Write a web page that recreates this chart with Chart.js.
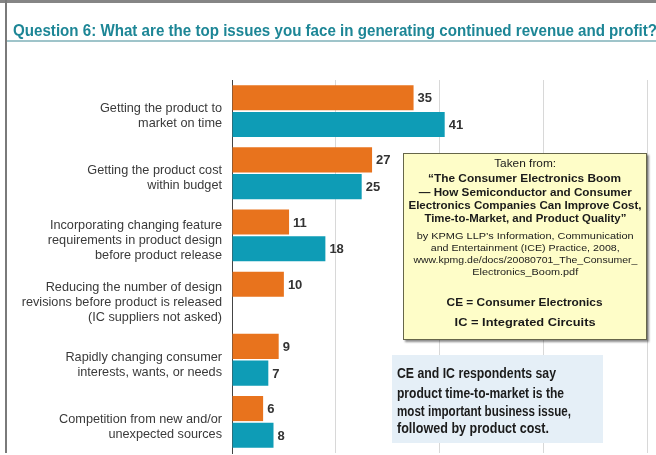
<!DOCTYPE html>
<html>
<head>
<meta charset="utf-8">
<script src="https://cdn.jsdelivr.net/npm/chart.js@4.4.1/dist/chart.umd.min.js"></script>
<style>
  html, body { margin: 0; padding: 0; background: #fff; }
  #wrap { position: relative; width: 656px; height: 455px; overflow: hidden; background: #fff; }
  #myChart { position: absolute; left: 0; top: 0; }
  .frameTop { position: absolute; left: 0; top: 0; width: 656px; height: 3px; background: #858585; }
  .frameLeft { position: absolute; left: 5px; top: 0; width: 2px; height: 453px; background: #7a7a7a; }
  .title { position: absolute; left: 13px; top: 21px; white-space: nowrap; line-height: 17px;
    font: bold 17px "Liberation Sans Narrow", "Liberation Sans", Arial, sans-serif; color: #1d8696; }
  .rule { position: absolute; left: 7px; top: 40px; width: 649px; height: 2px; background: #9fc4ca; }
  .fit { display: inline-block; white-space: nowrap; }
  .note { position: absolute; left: 403px; top: 153px; width: 242px; height: 185px;
    background: #fefdc8; border: 1px solid #66664a; box-shadow: 2px 2px 2px rgba(0,0,0,0.45);
    font-family: "Liberation Sans", Arial, sans-serif; color: #1a1a1a; }
  .note div { position: absolute; left: 0; right: 0; text-align: center; line-height: 12px; }
  .note .b { font-weight: bold; font-size: 11px; }
  .note .r { font-size: 9.5px; }
  .note .fit { transform-origin: center center; }
  .callout { position: absolute; left: 392px; top: 355px; width: 211px; height: 88px; background: #e5eff7;
    font: bold 14px "Liberation Sans Narrow", "Liberation Sans", Arial, sans-serif; color: #1b1b1b; }
  .callout div { position: absolute; left: 5px; line-height: 14px; }
  .fit.l { transform-origin: left center; }
</style>
</head>
<body>
<div id="wrap">
  <canvas id="myChart" width="656" height="455"></canvas>
  <div class="frameTop"></div>
  <div class="frameLeft"></div>
  <div class="title"><span class="fit l" data-w="644">Question 6: What are the top issues you face in generating continued revenue and profit?</span></div>
  <div class="rule"></div>

  <div class="note">
    <div class="r" style="top:4px;font-size:10px"><span class="fit" data-w="62">Taken from:</span></div>
    <div class="b" style="top:18px"><span class="fit" data-w="193">“The Consumer Electronics Boom</span></div>
    <div class="b" style="top:32px"><span class="fit" data-w="213">— How Semiconductor and Consumer</span></div>
    <div class="b" style="top:45px"><span class="fit" data-w="233">Electronics Companies Can Improve Cost,</span></div>
    <div class="b" style="top:58px"><span class="fit" data-w="202">Time-to-Market, and Product Quality”</span></div>
    <div class="r" style="top:76px"><span class="fit" data-w="217">by KPMG LLP’s Information, Communication</span></div>
    <div class="r" style="top:88px"><span class="fit" data-w="189">and Entertainment (ICE) Practice, 2008,</span></div>
    <div class="r" style="top:100px"><span class="fit" data-w="224">www.kpmg.de/docs/20080701_The_Consumer_</span></div>
    <div class="r" style="top:112px"><span class="fit" data-w="106">Electronics_Boom.pdf</span></div>
    <div class="b" style="top:142px;font-size:11.5px"><span class="fit" data-w="156">CE = Consumer Electronics</span></div>
    <div class="b" style="top:162px;font-size:11.5px"><span class="fit" data-w="141">IC = Integrated Circuits</span></div>
  </div>

  <div class="callout">
    <div style="top:11px"><span class="fit l" data-w="159">CE and IC respondents say</span></div>
    <div style="top:31px"><span class="fit l" data-w="167">product time-to-market is the</span></div>
    <div style="top:49px"><span class="fit l" data-w="174">most important business issue,</span></div>
    <div style="top:66px"><span class="fit l" data-w="152">followed by product cost.</span></div>
  </div>
</div>

<script>
const issues = [
  ['Getting the product to', 'market on time'],
  ['Getting the product cost', 'within budget'],
  ['Incorporating changing feature', 'requirements in product design', 'before product release'],
  ['Reducing the number of design', 'revisions before product is released', '(IC suppliers not asked)'],
  ['Rapidly changing consumer', 'interests, wants, or needs'],
  ['Competition from new and/or', 'unexpected sources']
];
const ceValues = [35, 27, 11, 10, 9, 6];
const icValues = [41, 25, 18, null, 7, 8];
const xTicks = [0, 20, 40, 60, 80];

// squeeze text to the width measured on the original (condensed typeface look)
document.querySelectorAll('.fit').forEach(el => {
  const w = +el.dataset.w;
  const k = w / el.getBoundingClientRect().width;
  el.style.transform = 'scaleX(' + k + ')';
});

const valueLabels = {
  id: 'valueLabels',
  afterDatasetsDraw(chart) {
    const c = chart.ctx;
    c.save();
    c.font = 'bold 13px "Liberation Sans", Arial, sans-serif';
    c.fillStyle = '#333333';
    c.textBaseline = 'middle';
    c.textAlign = 'left';
    chart.data.datasets.forEach((ds, i) => {
      chart.getDatasetMeta(i).data.forEach((bar, j) => {
        if (ds.data[j] == null) return;
        c.fillText(ds.data[j], bar.x + 4, bar.y + 1);
      });
    });
    c.restore();
  }
};

const ctx = document.getElementById('myChart').getContext('2d');
const myChart = new Chart(ctx, {
  type: 'bar',
  data: {
    labels: issues,
    datasets: [{
      label: 'CE',
      data: ceValues,
      backgroundColor: '#e8731d',
      barPercentage: .94,
      categoryPercentage: .86
    }, {
      label: 'IC',
      data: icValues,
      backgroundColor: '#0e9cb6',
      barPercentage: .94,
      categoryPercentage: .86
    }]
  },
  options: {
    responsive: false,
    devicePixelRatio: 1,
    animation: false,
    indexAxis: 'y',
    layout: { padding: { top: 80, right: 9, bottom: 2, left: 0 } },
    scales: {
      x: {
        min: 0,
        max: 80,
        afterBuildTicks: s => { s.ticks = xTicks.map(v => ({ value: v })); },
        afterFit: s => { s.height = 0; s.paddingLeft = 0; s.paddingRight = 0; },
        ticks: { display: false },
        grid: {
          drawTicks: false,
          color: c => c.tick && c.tick.value === 0 ? 'rgba(0,0,0,0)' : '#d8d8d8'
        },
        border: { display: false }
      },
      y: {
        afterFit: s => { s.width = 232; s.paddingTop = 0; s.paddingBottom = 0; },
        grid: { display: false, drawTicks: false },
        border: { color: '#444444', width: 1 },
        ticks: {
          padding: 10,
          labelOffset: 5,
          color: '#3a3a3a',
          font: { family: '"Liberation Sans", Arial, sans-serif', size: 12.7, lineHeight: 1.18 }
        }
      }
    },
    plugins: {
      legend: { display: false },
      tooltip: { enabled: false }
    }
  },
  plugins: [valueLabels]
});
</script>
</body>
</html>
